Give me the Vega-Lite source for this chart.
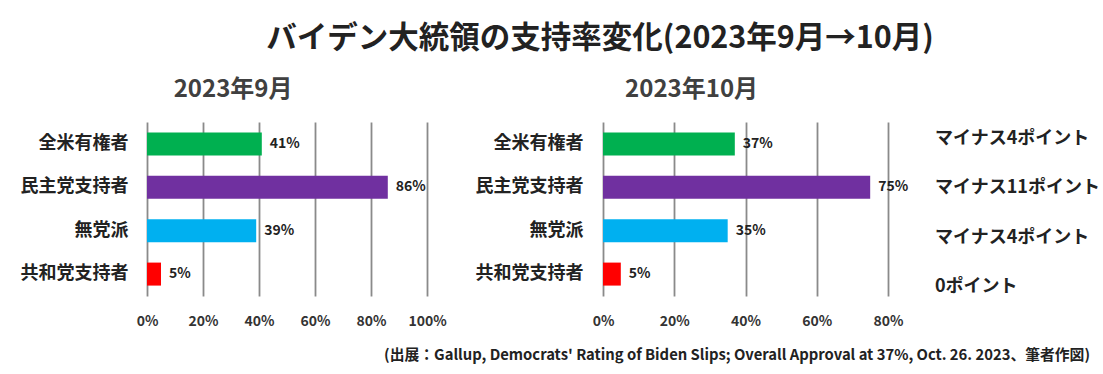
{
  "$schema": "https://vega.github.io/schema/vega-lite/v6.json",
  "background": "white",
  "padding": {"left": 20, "top": 23, "right": 4, "bottom": 4},
  "datasets": {
    "poll": [
      {"group": "全米有権者", "sep": 0.41, "oct": 0.37, "change": "マイナス4ポイント"},
      {"group": "民主党支持者", "sep": 0.86, "oct": 0.75, "change": "マイナス11ポイント"},
      {"group": "無党派", "sep": 0.39, "oct": 0.35, "change": "マイナス4ポイント"},
      {"group": "共和党支持者", "sep": 0.05, "oct": 0.05, "change": "0ポイント"}
    ],
    "note": [
      {"source": "(出展：Gallup, Democrats' Rating of Biden Slips; Overall Approval at 37%, Oct. 26. 2023、筆者作図)"}
    ]
  },
  "title": {
    "text": "バイデン大統領の支持率変化(2023年9月→10月)",
    "fontSize": 30.5,
    "font": "Noto Sans CJK JP",
    "fontWeight": "bold",
    "color": "#222222",
    "anchor": "middle",
    "dx": 40,
    "offset": 24
  },
  "spacing": 20,
  "vconcat": [
    {
      "spacing": 28,
      "hconcat": [
        {
          "width": 280,
          "height": 174,
          "title": {"text": "2023年9月", "frame": "bounds", "fontSize": 24, "font": "Noto Sans CJK JP", "fontWeight": "bold", "color": "#404040", "offset": 20},
          "data": {"name": "poll"},
          "encoding": {
            "y": {
              "field": "group", "type": "nominal",
              "sort": ["全米有権者", "民主党支持者", "無党派", "共和党支持者"],
              "scale": {"paddingInner": 0.47, "paddingOuter": 0.24},
              "axis": {"title": null, "ticks": false, "domain": false, "grid": false, "labelFontSize": 18, "labelPadding": 19, "labelFontWeight": "bold", "labelColor": "#222222", "labelFont": "Noto Sans CJK JP"}
            }
          },
          "layer": [
            {
              "mark": {"type": "bar"},
              "encoding": {
                "x": {
                  "field": "sep", "type": "quantitative",
                  "scale": {"domain": [0, 1]},
                  "axis": {"format": ".0%", "values": [0, 0.2, 0.4, 0.6, 0.8, 1], "labelFlush": false, "title": null, "ticks": false, "domain": false, "grid": true, "gridColor": "#8a8a8a", "gridWidth": 1.8, "labelFontSize": 14, "labelPadding": 18, "labelFontWeight": "bold", "labelColor": "#333333", "labelFont": "Noto Sans CJK JP"}
                },
                "color": {
                  "field": "group", "type": "nominal", "legend": null,
                  "scale": {"domain": ["全米有権者", "民主党支持者", "無党派", "共和党支持者"], "range": ["#00B050", "#7030A0", "#00B0F0", "#FF0000"]}
                }
              }
            },
            {
              "mark": {"type": "text", "align": "left", "baseline": "middle", "dx": 8, "fontSize": 14, "fontWeight": "bold", "color": "#222222", "font": "Noto Sans CJK JP"},
              "encoding": {
                "x": {"field": "sep", "type": "quantitative"},
                "text": {"field": "sep", "format": ".0%"}
              }
            }
          ]
        },
        {
          "spacing": 26,
          "hconcat": [
            {
              "width": 285,
              "height": 174,
              "title": {"text": "2023年10月", "frame": "bounds", "fontSize": 24, "font": "Noto Sans CJK JP", "fontWeight": "bold", "color": "#404040", "offset": 20},
              "data": {"name": "poll"},
              "encoding": {
                "y": {
                  "field": "group", "type": "nominal",
                  "sort": ["全米有権者", "民主党支持者", "無党派", "共和党支持者"],
                  "scale": {"paddingInner": 0.47, "paddingOuter": 0.24},
                  "axis": {"title": null, "ticks": false, "domain": false, "grid": false, "labelFontSize": 18, "labelPadding": 20, "labelFontWeight": "bold", "labelColor": "#222222", "labelFont": "Noto Sans CJK JP"}
                }
              },
              "layer": [
                {
                  "mark": {"type": "bar"},
                  "encoding": {
                    "x": {
                      "field": "oct", "type": "quantitative",
                      "scale": {"domain": [0, 0.8]},
                      "axis": {"format": ".0%", "values": [0, 0.2, 0.4, 0.6, 0.8], "labelFlush": false, "title": null, "ticks": false, "domain": false, "grid": true, "gridColor": "#8a8a8a", "gridWidth": 1.8, "labelFontSize": 14, "labelPadding": 18, "labelFontWeight": "bold", "labelColor": "#333333", "labelFont": "Noto Sans CJK JP"}
                    },
                    "color": {
                      "field": "group", "type": "nominal", "legend": null,
                      "scale": {"domain": ["全米有権者", "民主党支持者", "無党派", "共和党支持者"], "range": ["#00B050", "#7030A0", "#00B0F0", "#FF0000"]}
                    }
                  }
                },
                {
                  "mark": {"type": "text", "align": "left", "baseline": "middle", "dx": 8, "fontSize": 14, "fontWeight": "bold", "color": "#222222", "font": "Noto Sans CJK JP"},
                  "encoding": {
                    "x": {"field": "oct", "type": "quantitative"},
                    "text": {"field": "oct", "format": ".0%"}
                  }
                }
              ]
            },
            {
              "width": 158,
              "height": 182,
              "data": {"name": "poll"},
              "mark": {"type": "text", "align": "left", "baseline": "middle", "fontSize": 18, "fontWeight": "bold", "color": "#222222", "font": "Noto Sans CJK JP"},
              "encoding": {
                "x": {"datum": 0, "type": "quantitative", "scale": {"domain": [0, 1]}, "axis": null},
                "y": {
                  "field": "group", "type": "nominal",
                  "sort": ["全米有権者", "民主党支持者", "無党派", "共和党支持者"],
                  "scale": {"type": "point", "padding": 0.345},
                  "axis": null
                },
                "text": {"field": "change"}
              }
            }
          ]
        }
      ]
    },
    {
      "width": 943,
      "height": 10,
      "data": {"name": "note"},
      "mark": {"type": "text", "align": "right", "baseline": "middle", "fontSize": 14.8, "fontWeight": "bold", "color": "#222222", "font": "Noto Sans CJK JP"},
      "encoding": {
        "x": {"datum": 1, "type": "quantitative", "scale": {"domain": [0, 1]}, "axis": null},
        "text": {"field": "source"}
      }
    }
  ],
  "config": {
    "view": {"stroke": null},
    "font": "Noto Sans CJK JP"
  }
}
